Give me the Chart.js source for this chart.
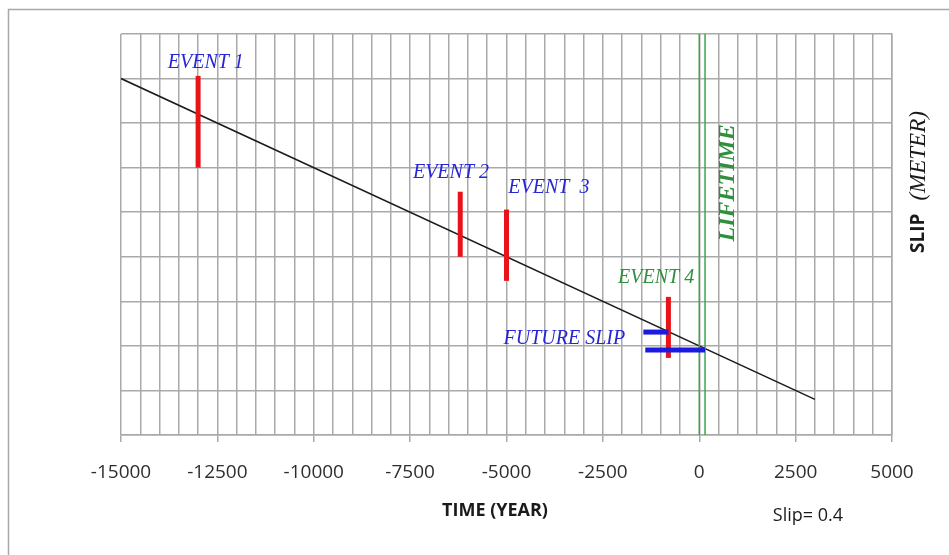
<!DOCTYPE html>
<html>
<head>
<meta charset="utf-8">
<script src="https://cdn.jsdelivr.net/npm/chart.js@4.4.1/dist/chart.umd.min.js"></script>
<style>
  body { margin: 0; background: #fff; }
  #wrap { width: 949px; height: 555px; }
</style>
</head>
<body>
<div id="wrap"><canvas id="chart-slip" width="949" height="555"></canvas></div>
<script>
// values
const eventLabels = ['EVENT 1', 'EVENT 2', 'EVENT  3', 'EVENT 4'];
const eventYears = [-13000, -6200, -5000, -800];
const eventTop = [8.06, 5.46, 5.06, 3.1];
const eventBottom = [6.0, 4.0, 3.46, 1.73];

const trendYears = [-15000, 3000];
const trendSlip = [8.0, 0.8];

const futureStart = [-1450, -1400];
const futureEnd = [-800, 150];
const futureSlip = [2.31, 1.91];

const lifetimeYears = [0, 150];

const xMin = -15000, xMax = 5000, xStep = 500, xLabelStep = 2500;
const yMin = 0, yMax = 9;

const slipRate = '0.4';

const GRID = '#a9a9a9';
const BLUE = '#2626d6';
const GREEN = '#2f8f3c';

const datasets = [];

datasets.push({
  data: trendYears.map((x, i) => ({ x: x, y: trendSlip[i] })),
  borderColor: '#1c1c1c',
  borderWidth: 1.5,
  order: 5,
});

lifetimeYears.forEach(x => {
  datasets.push({
    data: [{ x: x, y: yMin }, { x: x, y: yMax }],
    borderColor: '#3fa64c',
    borderWidth: 1.5,
    order: 4,
  });
});

eventYears.forEach((x, i) => {
  datasets.push({
    data: [{ x: x, y: eventBottom[i] }, { x: x, y: eventTop[i] }],
    borderColor: '#e8141a',
    borderWidth: 5,
    order: 2,
  });
});

futureSlip.forEach((y, i) => {
  datasets.push({
    data: [{ x: futureStart[i], y: y }, { x: futureEnd[i], y: y }],
    borderColor: '#1a1ae0',
    borderWidth: 5,
    order: 1,
  });
});

// texts that sit on the plot (label, year, slip, colour)
const notes = [
  [eventLabels[0], -12800, 8.35, BLUE],
  [eventLabels[1], -6440, 5.88, BLUE],
  [eventLabels[2], -3900, 5.54, BLUE],
  [eventLabels[3], -1120, 3.52, GREEN],
  ['FUTURE SLIP', -3500, 2.16, BLUE],
];

const textPlugin = {
  id: 'texts',
  beforeDraw(chart) {
    const c = chart.ctx;
    c.save();
    c.strokeStyle = GRID;
    c.lineWidth = 1.5;
    c.strokeRect(8.5, 9.5, 960, 560);
    c.restore();
  },
  afterDraw(chart) {
    const c = chart.ctx;
    const sx = chart.scales.x, sy = chart.scales.y;
    c.save();
    c.textAlign = 'center';
    c.textBaseline = 'middle';
    c.font = 'italic 20px "Liberation Serif"';
    notes.forEach(n => {
      c.fillStyle = n[3];
      c.fillText(n[0], sx.getPixelForValue(n[1]), sy.getPixelForValue(n[2]));
    });

    // LIFETIME
    c.save();
    c.translate(sx.getPixelForValue(730), sy.getPixelForValue(5.66));
    c.rotate(-Math.PI / 2);
    c.font = 'italic bold 24px "Liberation Serif"';
    c.fillStyle = GREEN;
    c.fillText('LIFETIME', 0, 0);
    c.restore();

    // y title
    c.save();
    c.translate(919, 253);
    c.rotate(-Math.PI / 2);
    c.textAlign = 'left';
    c.fillStyle = '#1a1a1a';
    c.font = 'bold 19px "Open Sans"';
    c.fillText('SLIP', 0, 0);
    const w = c.measureText('SLIP').width;
    c.font = 'italic 23px "Liberation Serif"';
    c.fillText('(METER)', w + 13, 0);
    c.restore();

    // x title and rate
    c.fillStyle = '#1a1a1a';
    c.font = 'bold 18px "Open Sans"';
    c.fillText('TIME (YEAR)', 495, 511);
    c.font = '18px "Open Sans"';
    c.fillText('Slip= ' + slipRate, 808, 516);
    c.restore();
  },
};

new Chart(document.getElementById('chart-slip'), {
  type: 'line',
  data: { datasets: datasets },
  options: {
    responsive: false,
    animation: false,
    layout: { padding: { left: 121, top: 34, right: 0, bottom: 0 } },
    elements: { point: { radius: 0 } },
    plugins: { legend: { display: false }, tooltip: { enabled: false } },
    scales: {
      x: {
        type: 'linear',
        min: xMin,
        max: xMax,
        afterFit: s => { s.height = 120; },
        border: { color: GRID, width: 1.5 },
        grid: {
          color: GRID,
          lineWidth: 1.5,
          tickLength: 7,
          tickColor: ctx => (ctx.tick && ctx.tick.value % xLabelStep === 0 ? GRID : 'rgba(0,0,0,0)'),
        },
        ticks: {
          stepSize: xStep,
          autoSkip: false,
          maxRotation: 0,
          padding: 19,
          color: '#2e2e2e',
          font: { family: 'Open Sans', size: 19 },
          callback: v => (v % xLabelStep === 0 ? String(v) : ''),
        },
      },
      y: {
        position: 'right',
        min: yMin,
        max: yMax,
        afterFit: s => { s.width = 57; },
        border: { color: GRID, width: 1.5 },
        grid: { color: GRID, lineWidth: 1.5, drawTicks: false },
        ticks: { stepSize: 1, display: false },
      },
    },
  },
  plugins: [textPlugin],
});
</script>
</body>
</html>
